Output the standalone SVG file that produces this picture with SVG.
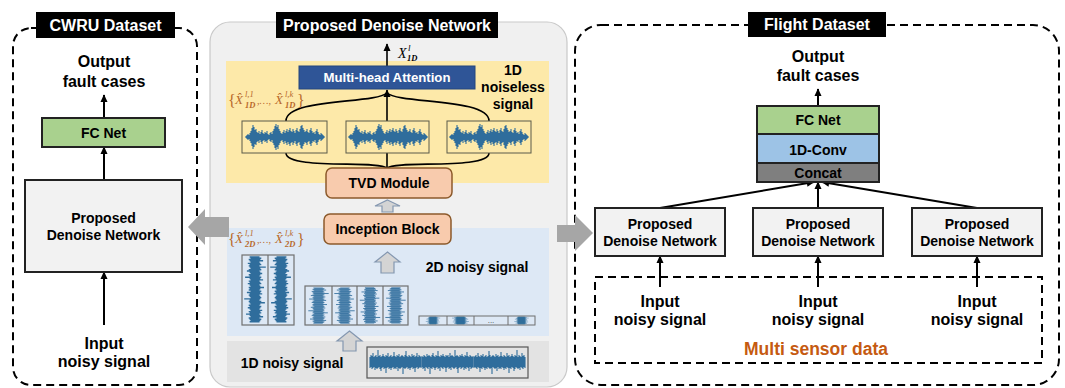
<svg xmlns="http://www.w3.org/2000/svg" width="1065" height="388" viewBox="0 0 1065 388">
  <style>
    .lbl { font-family: "Liberation Sans", Arial, sans-serif; font-weight: bold; fill: #000; text-anchor: middle; }
    .ttl { font-family: "Liberation Sans", Arial, sans-serif; font-weight: bold; fill: #fff; text-anchor: middle; font-size: 16px; }
    .math { font-family: "Liberation Serif", "DejaVu Serif", serif; font-style: italic; }
    .set { fill: #b8682a; }
    .dash { fill: none; stroke: #000; stroke-width: 2; stroke-dasharray: 8 5; }
    .box { stroke: #222; stroke-width: 2; }
    .wire { fill: none; stroke: #000; stroke-width: 2; }
    .thin { fill: none; stroke: #000; stroke-width: 1.6; }
    .wave { fill: none; stroke: #2f6d9c; stroke-width: 1.1; }
    .cell { fill: none; stroke: #6f6f6f; stroke-width: 1.2; }
    .hollow { fill: #d4d4d4; stroke: #8497b0; stroke-width: 1.2; }
    .block { fill: #a6a6a6; }
    .peach { fill: #f8cbad; stroke: #8c5a2b; stroke-width: 1.5; }
  </style>
  <defs>
    <marker id="ah" viewBox="0 0 10 10" refX="9" refY="5" markerWidth="8" markerHeight="8" markerUnits="userSpaceOnUse" orient="auto">
      <path d="M0,0.5 L10,5 L0,9.5 z" fill="#000"/>
    </marker>
    <!-- bursty clean waveform, 78 px wide, centred on y=0 -->
    <path id="clean" class="wave" d="M0,0H78M0-1V1M1-2V2M2-3V3M3-2V2M4-4V4M5-6V6M6-9V9M7-12V12M8-10V10M9-7V7M10-8V8M11-5V5M12-4V4M13-6V6M14-3V3M15-5V5M16-7V7M17-4V4M18-3V3M19-5V5M20-4V4M21-6V6M22-3V3M23-2V2M24-4V4M25-5V5M26-3V3M27-6V6M28-8V8M29-11V11M30-13V13M31-10V10M32-12V12M33-8V8M34-6V6M35-4V4M36-3V3M37-5V5M38-7V7M39-4V4M40-6V6M41-8V8M42-5V5M43-7V7M44-9V9M45-6V6M46-5V5M47-8V8M48-6V6M49-4V4M50-7V7M51-9V9M52-6V6M53-5V5M54-8V8M55-11V11M56-12V12M57-9V9M58-7V7M59-5V5M60-6V6M61-8V8M62-5V5M63-4V4M64-7V7M65-9V9M66-6V6M67-4V4M68-5V5M69-3V3M70-6V6M71-8V8M72-5V5M73-3V3M74-2V2M75-4V4M76-3V3M77-2V2M78-1V1"/>
    <!-- dense noise strip, 52 px long, centred on y=0 -->
    <path id="noise" class="wave" d="M0-5V6M1-7V5M2-6V7M3-9V6M4-5V5M5-6V8M6-7V6M7-5V7M8-12V6M9-6V5M10-7V7M11-5V9M12-6V6M13-8V5M14-6V7M15-5V6M16-7V11M17-6V6M18-9V5M19-5V7M20-6V6M21-7V8M22-5V6M23-6V5M24-10V7M25-6V6M26-5V7M27-7V5M28-6V9M29-8V6M30-5V7M31-6V6M32-7V5M33-6V12M34-5V6M35-7V7M36-11V6M37-6V5M38-5V7M39-7V6M40-6V8M41-5V6M42-8V5M43-6V7M44-7V6M45-5V10M46-6V6M47-9V5M48-5V7M49-7V6M50-6V5M51-5V6"/>
  </defs>

  <!-- outer frames -->
  <rect x="13" y="28" width="184" height="357" rx="18" class="dash"/>
  <rect x="210" y="22" width="357" height="365" rx="20" fill="#f0f0f0" stroke="#c9c9c9" stroke-width="1.2"/>
  <rect x="575" y="25" width="484" height="360" rx="26" class="dash"/>
  <rect x="595" y="277" width="447" height="86" class="dash" stroke-width="1.8"/>

  <!-- stage backgrounds inside the network -->
  <rect x="226" y="61" width="323" height="122" fill="#fde9a9"/>
  <rect x="227" y="228" width="322" height="108" fill="#dde8f5"/>
  <rect x="227" y="341" width="322" height="41" fill="#e3e3e3"/>

  <!-- connectors -->
  <g id="connectors">
    <!-- left panel -->
    <line x1="104" y1="118" x2="104" y2="95" class="wire" marker-end="url(#ah)"/>
    <line x1="104" y1="180" x2="104" y2="147" class="wire" marker-end="url(#ah)"/>
    <line x1="104" y1="325" x2="104" y2="272" class="wire" marker-end="url(#ah)"/>
    <!-- network internals -->
    <line x1="387" y1="66" x2="387" y2="44" class="thin" marker-end="url(#ah)"/>
    <line x1="387" y1="168" x2="387" y2="90" class="thin" marker-end="url(#ah)"/>
    <path d="M286,121 C286,98 375,104 387,93" class="thin"/>
    <path d="M489,121 C489,98 399,104 387,93" class="thin"/>
    <path d="M286,153 C286,170 378,160 387,168" class="thin"/>
    <path d="M489,153 C489,170 396,160 387,168" class="thin"/>
    <path d="M387.5,200 L400,206 L393,206 L393,212 L382,212 L382,206 L375,206 Z" class="hollow"/>
    <path d="M387.5,252 L400,262 L394,262 L394,273 L381,273 L381,262 L375,262 Z" class="hollow"/>
    <path d="M349.5,331 L362,341 L356,341 L356,351 L343,351 L343,341 L337,341 Z" class="hollow"/>
    <!-- hand-off between panels -->
    <path d="M188,227 L205,209 L205,217 L229,217 L229,237 L205,237 L205,245 Z" class="block"/>
    <path d="M593,233 L575,215 L575,225 L557,225 L557,242 L575,242 L575,251 Z" class="block"/>
    <!-- right panel -->
    <line x1="818" y1="106" x2="818" y2="89" class="wire" marker-end="url(#ah)"/>
    <line x1="660" y1="208" x2="814" y2="182" class="wire" marker-end="url(#ah)"/>
    <line x1="818" y1="208" x2="818" y2="182" class="wire" marker-end="url(#ah)"/>
    <line x1="977" y1="208" x2="822" y2="182" class="wire" marker-end="url(#ah)"/>
    <line x1="660" y1="287" x2="660" y2="256" class="wire" marker-end="url(#ah)"/>
    <line x1="818" y1="287" x2="818" y2="256" class="wire" marker-end="url(#ah)"/>
    <line x1="977" y1="287" x2="977" y2="256" class="wire" marker-end="url(#ah)"/>
  </g>

  <!-- CWRU dataset panel -->
  <g id="cwru-title">
    <rect x="36" y="12" width="139" height="26" fill="#000"/>
    <text x="105.5" y="31" class="ttl">CWRU Dataset</text>
  </g>
  <g id="cwru-output">
    <text x="104" y="67" class="lbl" font-size="16">Output</text>
    <text x="104" y="87" class="lbl" font-size="16">fault cases</text>
  </g>
  <g id="cwru-fc">
    <rect x="42" y="118" width="123" height="29" fill="#a9d18e" class="box"/>
    <text x="103.5" y="138" class="lbl" font-size="14">FC Net</text>
  </g>
  <g id="cwru-denoise">
    <rect x="25" y="180" width="157" height="92" fill="#f2f2f2" class="box"/>
    <text x="103.5" y="223" class="lbl" font-size="14">Proposed</text>
    <text x="103.5" y="240" class="lbl" font-size="14">Denoise Network</text>
  </g>
  <g id="cwru-input">
    <text x="104" y="349" class="lbl" font-size="16">Input</text>
    <text x="104" y="367" class="lbl" font-size="16">noisy signal</text>
  </g>

  <!-- proposed denoise network -->
  <g id="net-title">
    <rect x="276" y="12" width="222" height="26" fill="#000"/>
    <text x="387" y="31" class="ttl">Proposed Denoise Network</text>
  </g>
  <g id="net-output-label" class="math">
    <text x="398" y="58" font-size="14">X</text>
    <text x="408" y="51" font-size="9">l</text>
    <text x="407" y="61" font-size="8.5" font-weight="bold">1D</text>
  </g>
  <g id="attention">
    <rect x="299" y="66" width="176" height="23" fill="#2f5597" stroke="#24477f" stroke-width="1"/>
    <text x="387" y="82" class="lbl" font-size="13.2" style="fill:#fff">Multi-head Attention</text>
  </g>
  <g id="clean-label">
    <text x="513" y="75" class="lbl" font-size="14">1D</text>
    <text x="513" y="92" class="lbl" font-size="14">noiseless</text>
    <text x="513" y="109" class="lbl" font-size="14">signal</text>
  </g>
  <g id="clean-set" class="math set">
    <text x="228" y="106" font-size="16" font-style="normal">{</text>
    <text x="235" y="104" font-size="13">X̂</text>
    <text x="245" y="97" font-size="8.5">l,1</text>
    <text x="245" y="108" font-size="8.5" font-weight="bold">1D</text>
    <text x="257" y="104" font-size="10">,…,</text>
    <text x="275" y="104" font-size="13">X̂</text>
    <text x="285" y="97" font-size="8.5">l,k</text>
    <text x="285" y="108" font-size="8.5" font-weight="bold">1D</text>
    <text x="297" y="106" font-size="16" font-style="normal">}</text>
  </g>
  <g id="clean-1">
    <rect x="242" y="121" width="85" height="32" fill="#fde9a9" stroke="#5a5a4a" stroke-width="1"/>
    <use href="#clean" x="246" y="137"/>
  </g>
  <g id="clean-2">
    <rect x="346" y="121" width="83" height="32" fill="#fde9a9" stroke="#5a5a4a" stroke-width="1"/>
    <use href="#clean" x="349" y="137"/>
  </g>
  <g id="clean-3">
    <rect x="447" y="121" width="84" height="32" fill="#fde9a9" stroke="#5a5a4a" stroke-width="1"/>
    <use href="#clean" x="450" y="137"/>
  </g>
  <g id="tvd">
    <rect x="326" y="168" width="126" height="30" rx="6" class="peach"/>
    <text x="389" y="188" class="lbl" font-size="14">TVD Module</text>
  </g>
  <g id="inception">
    <rect x="324" y="214" width="127" height="30" rx="6" class="peach"/>
    <text x="387.5" y="234" class="lbl" font-size="14">Inception Block</text>
  </g>
  <g id="noisy2d-label">
    <text x="477" y="272" class="lbl" font-size="14">2D noisy signal</text>
  </g>
  <g id="noisy2d-set" class="math set">
    <text x="228" y="245" font-size="16" font-style="normal">{</text>
    <text x="235" y="243" font-size="13">X̂</text>
    <text x="245" y="236" font-size="8.5">l,1</text>
    <text x="245" y="247" font-size="8.5" font-weight="bold">2D</text>
    <text x="257" y="243" font-size="10">,…,</text>
    <text x="275" y="243" font-size="13">X̂</text>
    <text x="285" y="236" font-size="8.5">l,k</text>
    <text x="285" y="247" font-size="8.5" font-weight="bold">2D</text>
    <text x="297" y="245" font-size="16" font-style="normal">}</text>
  </g>
  <g id="fold-2">
    <use href="#noise" transform="translate(255,257) rotate(90) scale(1.27,0.9)"/>
    <use href="#noise" transform="translate(281,257) rotate(90) scale(1.27,-0.9)"/>
    <rect x="242" y="255" width="52" height="70" class="cell"/>
    <line x1="268" y1="255" x2="268" y2="325" class="cell"/>
  </g>
  <g id="fold-4">
    <use href="#noise" transform="translate(318.5,288) rotate(90) scale(0.69,0.85)"/>
    <use href="#noise" transform="translate(344.5,288) rotate(90) scale(0.69,-0.85)"/>
    <use href="#noise" transform="translate(370,323) rotate(90) scale(-0.69,0.85)"/>
    <use href="#noise" transform="translate(395.5,323) rotate(90) scale(-0.69,-0.85)"/>
    <rect x="305" y="286" width="103" height="39" class="cell"/>
    <path d="M332,286V325M357,286V325M383,286V325" class="cell"/>
  </g>
  <g id="fold-k">
    <use href="#noise" transform="translate(433,317) rotate(90) scale(0.137,0.6)"/>
    <use href="#noise" transform="translate(460.5,317) rotate(90) scale(0.137,-0.7)"/>
    <use href="#noise" transform="translate(521.5,317) rotate(90) scale(0.137,0.6)"/>
    <rect x="419" y="316" width="116" height="9" fill="none" stroke="#6f6f6f" stroke-width="1"/>
    <path d="M447,316V325M474,316V325M508,316V325" fill="none" stroke="#6f6f6f" stroke-width="1"/>
    <text x="491" y="323" font-family="Liberation Sans, Arial, sans-serif" font-size="8" text-anchor="middle" fill="#444">...</text>
  </g>
  <g id="noisy1d">
    <text x="292" y="368" class="lbl" font-size="14">1D noisy signal</text>
    <use href="#noise" transform="translate(370,362)"/>
    <use href="#noise" transform="translate(422,362) scale(1,-1)"/>
    <use href="#noise" transform="translate(525,362) scale(-1,1)"/>
    <rect x="367" y="347" width="161" height="31" fill="none" stroke="#555" stroke-width="1.2"/>
  </g>

  <!-- flight dataset panel -->
  <g id="flight-title">
    <rect x="748" y="12" width="138" height="25" fill="#000"/>
    <text x="817" y="30" class="ttl">Flight Dataset</text>
  </g>
  <g id="flight-output">
    <text x="818" y="62" class="lbl" font-size="16">Output</text>
    <text x="818" y="81" class="lbl" font-size="16">fault cases</text>
  </g>
  <g id="flight-head">
    <rect x="757" y="106" width="122" height="28" fill="#a9d18e" class="box"/>
    <rect x="757" y="134" width="122" height="29" fill="#9dc3e6" class="box"/>
    <rect x="757" y="163" width="122" height="19" fill="#7f7f7f" class="box"/>
    <text x="818" y="125" class="lbl" font-size="14">FC Net</text>
    <text x="818" y="155" class="lbl" font-size="14">1D-Conv</text>
    <text x="818" y="178" class="lbl" font-size="14">Concat</text>
  </g>
  <g id="flight-denoise-1">
    <rect x="595" y="208" width="130" height="48" fill="#f2f2f2" class="box"/>
    <text x="660" y="229" class="lbl" font-size="14">Proposed</text>
    <text x="660" y="246" class="lbl" font-size="14">Denoise Network</text>
  </g>
  <g id="flight-denoise-2">
    <rect x="753" y="208" width="130" height="48" fill="#f2f2f2" class="box"/>
    <text x="818" y="229" class="lbl" font-size="14">Proposed</text>
    <text x="818" y="246" class="lbl" font-size="14">Denoise Network</text>
  </g>
  <g id="flight-denoise-3">
    <rect x="912" y="208" width="130" height="48" fill="#f2f2f2" class="box"/>
    <text x="977" y="229" class="lbl" font-size="14">Proposed</text>
    <text x="977" y="246" class="lbl" font-size="14">Denoise Network</text>
  </g>
  <g id="flight-inputs">
    <text x="660" y="307" class="lbl" font-size="16">Input</text>
    <text x="660" y="325" class="lbl" font-size="16">noisy signal</text>
    <text x="818" y="307" class="lbl" font-size="16">Input</text>
    <text x="818" y="325" class="lbl" font-size="16">noisy signal</text>
    <text x="977" y="307" class="lbl" font-size="16">Input</text>
    <text x="977" y="325" class="lbl" font-size="16">noisy signal</text>
    <text x="816" y="355" class="lbl" font-size="17.5" style="fill:#c55a11">Multi sensor data</text>
  </g>
</svg>
